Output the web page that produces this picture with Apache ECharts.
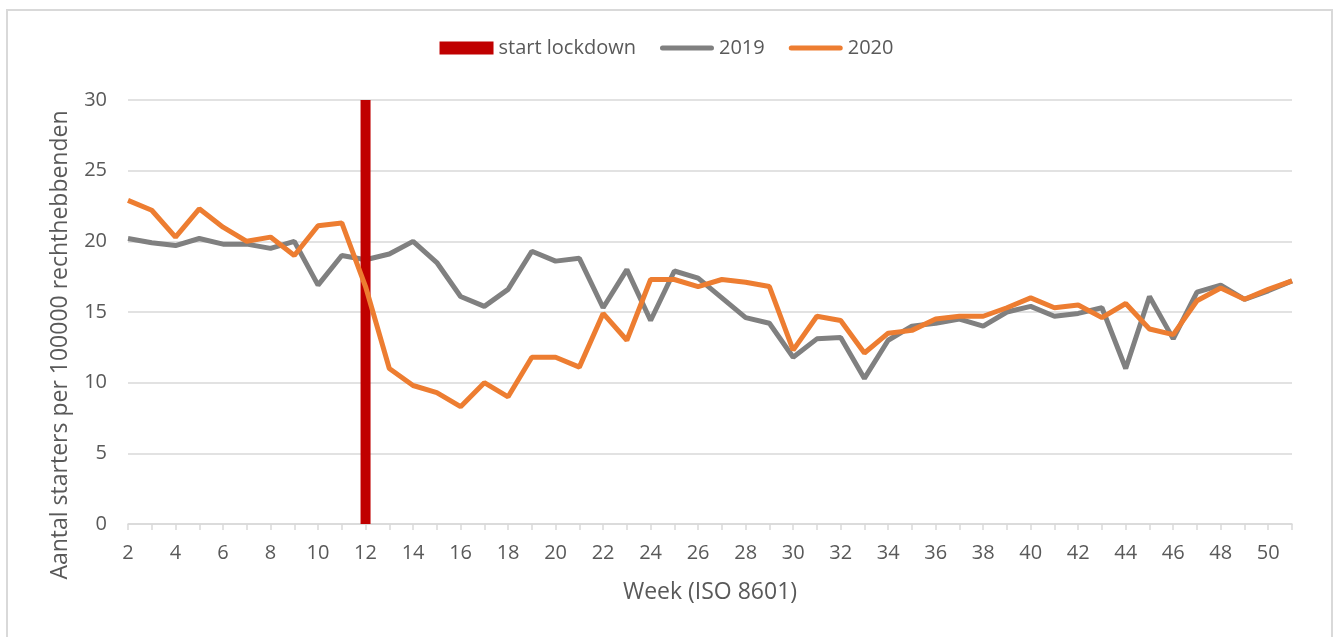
<!DOCTYPE html>
<html>
<head>
<meta charset="utf-8">
<script src="https://cdn.jsdelivr.net/npm/echarts@6/dist/echarts.min.js"></script>
<style>
  html, body { margin: 0; padding: 0; background: #fff; }
  #chart { width: 1333px; height: 637px; }
</style>
</head>
<body>
<div id="chart"></div>
<script>
const weeks = ['2','3','4','5','6','7','8','9','10','11','12','13','14','15','16','17','18','19','20','21',
  '22','23','24','25','26','27','28','29','30','31','32','33','34','35','36','37','38','39','40','41',
  '42','43','44','45','46','47','48','49','50','51'];

const data2019 = [20.2, 19.9, 19.7, 20.2, 19.8, 19.8, 19.5, 20.0, 16.9, 19.0, 18.7, 19.1, 20.0, 18.5, 16.1, 15.4, 16.6, 19.3, 18.6, 18.8,
  15.3, 18.0, 14.4, 17.9, 17.4, 16.0, 14.6, 14.2, 11.8, 13.1, 13.2, 10.3, 13.0, 14.0, 14.2, 14.5, 14.0, 15.0, 15.4, 14.7,
  14.9, 15.3, 11.0, 16.1, 13.1, 16.4, 16.9, 15.9, 16.5, 17.2];

const data2020 = [22.9, 22.2, 20.3, 22.3, 21.0, 20.0, 20.3, 19.0, 21.1, 21.3, 16.8, 11.0, 9.8, 9.3, 8.3, 10.0, 9.0, 11.8, 11.8, 11.1,
  14.9, 13.0, 17.3, 17.3, 16.8, 17.3, 17.1, 16.8, 12.3, 14.7, 14.4, 12.1, 13.5, 13.7, 14.5, 14.7, 14.7, 15.3, 16.0, 15.3,
  15.5, 14.6, 15.6, 13.8, 13.4, 15.8, 16.7, 15.9, 16.6, 17.2];

const lockdownWeek = '12';
const lockdownValue = 30;

const yTicks = { min: 0, max: 30, interval: 5 };

const chart = echarts.init(document.getElementById('chart'));
const lockdownData = weeks.map(w => (w === lockdownWeek ? lockdownValue : null));
const font = '"Open Sans", sans-serif';
const textColor = '#595959';
// legend line icon: thick rounded stroke inside a 54x13 box
const lineIcon = 'path://M0,0h0.01v0.01h-0.01z M53.99,12.99h0.01v0.01h-0.01z M2.5,4H51.5A2.5,2.5 0 0 1 51.5,9H2.5A2.5,2.5 0 0 1 2.5,4z';

const option = {
  animation: false,
  textStyle: { fontFamily: font },
  graphic: [{
    type: 'rect',
    shape: { x: 7, y: 10, width: 1325, height: 700 },
    style: { fill: 'none', stroke: '#D9D9D9', lineWidth: 2 },
    silent: true
  }],
  legend: {
    top: 33,
    left: 'center',
    itemWidth: 54,
    itemHeight: 13,
    itemGap: 24,
    textStyle: { fontSize: 20, color: textColor, fontFamily: font },
    data: [
      { name: 'start lockdown', icon: 'rect' },
      { name: '2019', icon: lineIcon },
      { name: '2020', icon: lineIcon }
    ]
  },
  grid: { left: 128, right: 41, top: 100, bottom: 113 },
  xAxis: {
    type: 'category',
    data: weeks,
    boundaryGap: false,
    name: 'Week (ISO 8601)',
    nameLocation: 'middle',
    nameGap: 57,
    nameTextStyle: { fontSize: 23, color: textColor, fontFamily: font },
    axisLine: { lineStyle: { color: '#D9D9D9', width: 1.5 } },
    axisTick: { show: true, interval: 0, length: 6, lineStyle: { color: '#D9D9D9', width: 1.5 } },
    axisLabel: { interval: 1, fontSize: 20, color: textColor, margin: 19, fontFamily: font },
    splitLine: { show: false }
  },
  yAxis: {
    type: 'value',
    min: yTicks.min,
    max: yTicks.max,
    interval: yTicks.interval,
    name: 'Aantal starters per 100000 rechthebbenden',
    nameLocation: 'middle',
    nameGap: 56,
    nameTextStyle: { fontSize: 23, color: textColor, fontFamily: font, padding: [0, 66, 0, 0] },
    axisLine: { show: false },
    axisTick: { show: false },
    axisLabel: { fontSize: 20, color: textColor, margin: 21, fontFamily: font },
    splitLine: { lineStyle: { color: '#D9D9D9', width: 1.5 } }
  },
  series: [
    {
      name: 'start lockdown',
      type: 'bar',
      data: lockdownData,
      barWidth: 10,
      z: 3,
      itemStyle: { color: '#C00000' }
    },
    {
      name: '2019',
      type: 'line',
      data: data2019,
      symbol: 'none',
      z: 2,
      lineStyle: { color: '#808080', width: 5 },
      itemStyle: { color: '#808080' }
    },
    {
      name: '2020',
      type: 'line',
      data: data2020,
      symbol: 'none',
      z: 4,
      lineStyle: { color: '#ED7D31', width: 5 },
      itemStyle: { color: '#ED7D31' }
    }
  ]
};
chart.setOption(option);
</script>
</body>
</html>
